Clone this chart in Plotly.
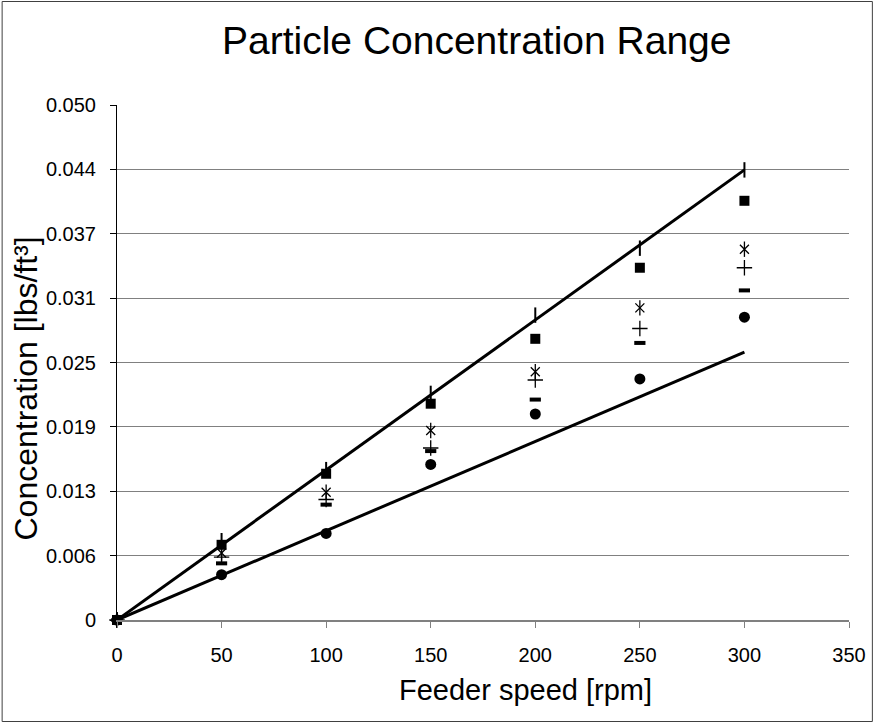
import plotly.graph_objects as go

# ---- data ----
speed = [0, 50, 100, 150, 200, 250, 300]
series_i = [0, 0.0077, 0.0146, 0.0220, 0.0296, 0.0361, 0.0437]
series_square = [0, 0.0073, 0.0142, 0.0210, 0.0273, 0.0342, 0.0407]
series_asterisk = [0, 0.0065, 0.0124, 0.0184, 0.0241, 0.0303, 0.0360]
series_plus = [0, 0.0061, 0.0117, 0.0167, 0.0233, 0.0283, 0.0342]
series_dash = [0, 0.0055, 0.0112, 0.0164, 0.0214, 0.0269, 0.0320]
series_circle = [0, 0.0044, 0.0084, 0.0151, 0.0200, 0.0234, 0.0294]

upper_x = [0, 300]
upper_y = [0, 0.0437]
lower_x = [0, 300]
lower_y = [0, 0.0260]

y_tickvals = [0, 0.00625, 0.0125, 0.01875, 0.025, 0.03125, 0.0375, 0.04375, 0.05]
y_ticktext = ["0", "0.006", "0.013", "0.019", "0.025", "0.031", "0.037", "0.044", "0.050"]
x_tickvals = [0, 50, 100, 150, 200, 250, 300, 350]

FONT = "Liberation Sans, Arial, sans-serif"

fig = go.Figure()

fig.add_trace(go.Scatter(x=upper_x, y=upper_y, mode="lines",
                         line=dict(color="black", width=3), cliponaxis=False))
fig.add_trace(go.Scatter(x=lower_x, y=lower_y, mode="lines",
                         line=dict(color="black", width=3), cliponaxis=False))

fig.add_trace(go.Scatter(x=speed, y=series_i, mode="markers", cliponaxis=False,
                         marker=dict(symbol="line-ns-open", size=11, color="black",
                                     line=dict(color="black", width=2))))
fig.add_trace(go.Scatter(x=speed, y=series_square, mode="markers", cliponaxis=False,
                         marker=dict(symbol="square", size=10, color="black")))
fig.add_trace(go.Scatter(x=speed, y=series_asterisk, mode="markers", cliponaxis=False,
                         marker=dict(symbol="x-thin-open", size=9, color="black",
                                     line=dict(color="black", width=1.3))))
fig.add_trace(go.Scatter(x=speed, y=series_asterisk, mode="markers", cliponaxis=False,
                         marker=dict(symbol="line-ns-open", size=11, color="black",
                                     line=dict(color="black", width=1.3))))
fig.add_trace(go.Scatter(x=speed, y=series_plus, mode="markers", cliponaxis=False,
                         marker=dict(symbol="cross-thin-open", size=11, color="black",
                                     line=dict(color="black", width=1.3))))
fig.add_trace(go.Scatter(x=speed, y=series_dash, mode="markers", cliponaxis=False,
                         marker=dict(symbol="line-ew-open", size=8, color="black",
                                     line=dict(color="black", width=4))))
fig.add_trace(go.Scatter(x=speed, y=series_circle, mode="markers", cliponaxis=False,
                         marker=dict(symbol="circle", size=11, color="black")))

L, R, T, B = 117, 25, 105, 103
W, H = 878, 723
pw, ph = W - L - R, H - T - B

def px(xp):
    return (xp - L) / pw

def py(yp):
    return (H - B - yp) / ph

fig.update_layout(
    width=W, height=H,
    margin=dict(l=L, r=R, t=T, b=B),
    paper_bgcolor="white", plot_bgcolor="white",
    showlegend=False,
    font=dict(family=FONT, color="black", size=20),
    xaxis=dict(range=[0, 350], tickvals=x_tickvals, showgrid=False, zeroline=False,
               showline=True, linecolor="#808080", linewidth=2,
               ticks="outside", ticklen=6, tickcolor="#808080", tickwidth=1,
               ticklabelstandoff=10, tickfont=dict(size=20)),
    yaxis=dict(range=[0, 0.05], tickvals=y_tickvals, ticktext=y_ticktext,
               showgrid=True, gridcolor="#808080", gridwidth=1, zeroline=False,
               showline=True, linecolor="black", linewidth=1,
               ticks="outside", ticklen=6, tickcolor="black",
               ticklabelstandoff=10, tickfont=dict(size=20)),
    annotations=[
        dict(text="Particle Concentration Range", xref="paper", yref="paper",
             x=px(478), y=py(40), showarrow=False, font=dict(size=39),
             xanchor="center", yanchor="middle"),
        dict(text="Feeder speed [rpm]", xref="paper", yref="paper",
             x=px(528), y=py(690), showarrow=False, font=dict(size=29),
             xanchor="center", yanchor="middle"),
        dict(text="Concentration [lbs/ft³]", xref="paper", yref="paper",
             x=px(26), y=py(388), showarrow=False, font=dict(size=32),
             textangle=-90, xanchor="center", yanchor="middle"),
    ],
    shapes=[
        dict(type="rect", xref="paper", yref="paper",
             x0=px(1.5), x1=px(876.5), y0=py(721.5), y1=py(1.5),
             line=dict(color="#404040", width=1), layer="below"),
    ],
)

fig.write_html("out.html", config={"displayModeBar": False},
               post_script="document.body.style.margin='0px';")
